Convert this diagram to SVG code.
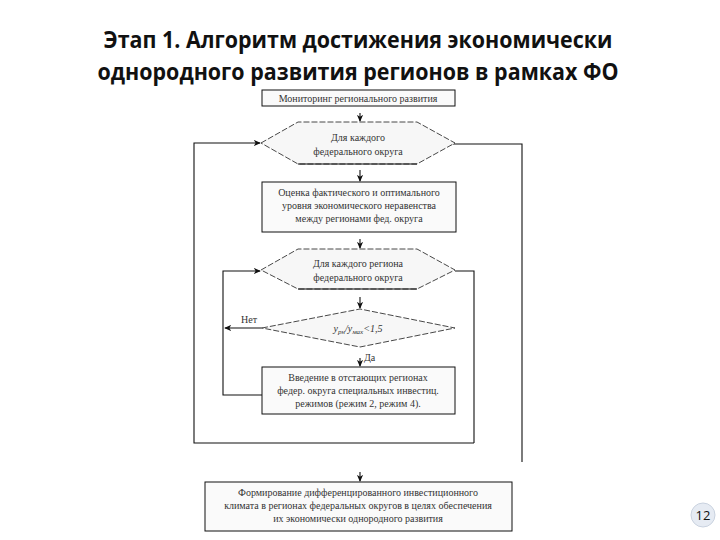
<svg xmlns="http://www.w3.org/2000/svg" width="720" height="540" viewBox="0 0 720 540">
<style>
.title{font-family:"Open Sans","Liberation Sans",sans-serif;font-weight:bold;font-size:23px;fill:#111;text-anchor:middle}
.box{fill:#fafafa;stroke:#111;stroke-width:1}
.hex{fill:#f7f7f7;stroke:#333;stroke-width:0.9;stroke-dasharray:6,2}
.solid{fill:none;stroke:#111;stroke-width:1}
.t{font-family:"Liberation Serif","DejaVu Serif",serif;font-size:10px;fill:#333;text-anchor:middle}
.lbl{font-family:"Liberation Serif","DejaVu Serif",serif;font-size:10px;fill:#333}
.line{fill:none;stroke:#111;stroke-width:1.1}
.pg{font-family:"Open Sans","Liberation Sans",sans-serif;font-size:13px;fill:#111;text-anchor:middle}
</style>
<defs>
<marker id="ah" viewBox="0 0 8 8" refX="7" refY="4" markerWidth="7" markerHeight="7" orient="auto" markerUnits="userSpaceOnUse">
<path d="M0,0.5 L8,4 L0,7.5 L2,4 Z" fill="#111"/>
</marker>
</defs>
<rect width="720" height="540" fill="#fff"/>
<text class="title" x="358" y="48" textLength="509" lengthAdjust="spacingAndGlyphs">Этап 1. Алгоритм достижения экономически</text>
<text class="title" x="358" y="80" textLength="521" lengthAdjust="spacingAndGlyphs">однородного развития регионов в рамках ФО</text>

<g id="connectors">
<line class="line" x1="360" y1="113" x2="360" y2="121" marker-end="url(#ah)"/>
<line class="line" x1="360" y1="170" x2="360" y2="181" marker-end="url(#ah)"/>
<line class="line" x1="360" y1="239" x2="360" y2="248" marker-end="url(#ah)"/>
<line class="line" x1="360" y1="297" x2="360" y2="308" marker-end="url(#ah)"/>
<line class="line" x1="360" y1="358" x2="360" y2="366" marker-end="url(#ah)"/>
<line class="line" x1="360" y1="472" x2="360" y2="481" marker-end="url(#ah)"/>
<polyline class="line" points="474,443 194,443 194,143 260,143" marker-end="url(#ah)"/>
<polyline class="line" points="455,271 474,271 474,443"/>
<polyline class="line" points="453,144 522,144 522,462"/>
<polyline class="line" points="262,395 223,395 223,271 260,271" marker-end="url(#ah)"/>
<line class="line" x1="262" y1="328" x2="225" y2="328" marker-end="url(#ah)"/>
<text class="lbl" x="241" y="323">Нет</text>
<text class="lbl" x="364" y="361">Да</text>
</g>

<g id="n1">
<rect class="box" x="262" y="90" width="193" height="16"/>
<text class="t" x="358" y="101.5">Мониторинг регионального развития</text>
</g>

<g id="n2">
<polygon class="hex" points="261,143 298,122 417,122 455,143 417,164 298,164"/>
<line class="solid" x1="298" y1="164" x2="417" y2="164"/>
<text class="t" x="358" y="141">Для каждого</text>
<text class="t" x="358" y="155">федерального округа</text>
</g>

<g id="n3">
<rect class="box" x="262" y="182" width="194" height="50"/>
<text class="t" x="359" y="196">Оценка фактического и оптимального</text>
<text class="t" x="359" y="209">уровня экономического неравенства</text>
<text class="t" x="359" y="222">между регионами фед. округа</text>
</g>

<g id="n4">
<polygon class="hex" points="261,270 298,249 417,249 455,270 417,289 298,289"/>
<line class="solid" x1="298" y1="289" x2="417" y2="289"/>
<text class="t" x="358" y="267">Для каждого региона</text>
<text class="t" x="358" y="281">федерального округа</text>
</g>

<g id="n5">
<polygon class="hex" points="262,328 360,309 455,328 360,347"/>
<text class="t" x="358" y="332" font-style="italic">y<tspan font-size="7" dy="2">рн</tspan><tspan dy="-2">/y</tspan><tspan font-size="7" dy="2">мах</tspan><tspan dy="-2">&lt;1,5</tspan></text>
</g>

<g id="n6">
<rect class="box" x="262" y="367" width="193" height="47"/>
<text class="t" x="358" y="381">Введение в отстающих регионах</text>
<text class="t" x="358" y="394">федер. округа специальных инвестиц.</text>
<text class="t" x="358" y="407">режимов (режим 2, режим 4).</text>
</g>

<g id="n7">
<rect class="box" x="205" y="482" width="307" height="49"/>
<text class="t" x="358" y="496">Формирование дифференцированного инвестиционного</text>
<text class="t" x="358" y="509">климата в регионах федеральных округов в целях обеспечения</text>
<text class="t" x="358" y="522">их экономически однородного развития</text>
</g>

<g id="page">
<circle cx="703" cy="515" r="12" fill="#e6ebf3" stroke="#c9d2df" stroke-width="1"/>
<text class="pg" x="703" y="520">12</text>
</g>
</svg>
